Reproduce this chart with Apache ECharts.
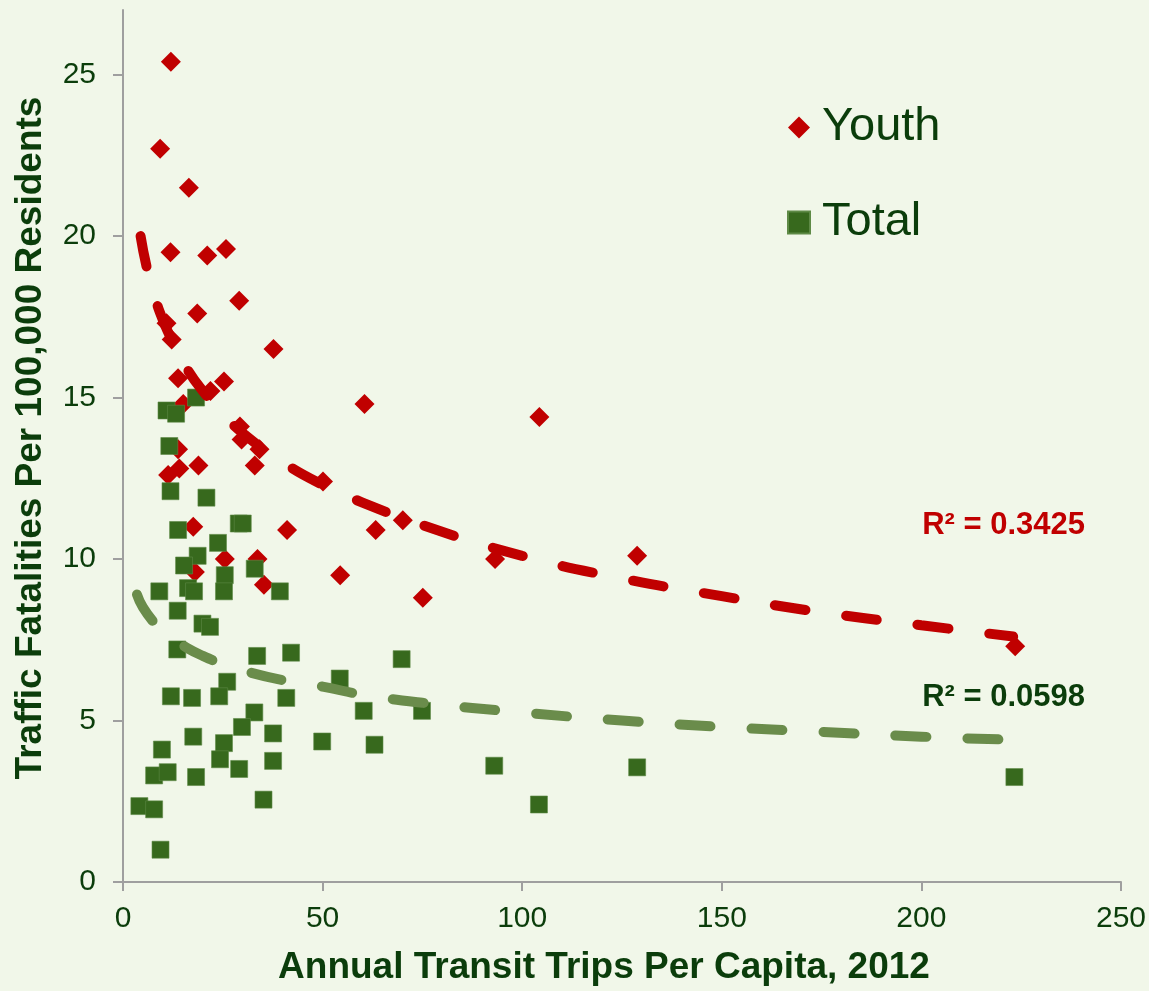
<!DOCTYPE html>
<html>
<head>
<meta charset="utf-8">
<script src="https://cdn.jsdelivr.net/npm/echarts@6/dist/echarts.min.js"></script>
<style>
html,body{margin:0;padding:0;background:#f1f7e9;}
#chart{width:1149px;height:991px;}
</style>
</head>
<body>
<div id="chart"></div>
<script>
// ---- Data ----
const youthX = [12, 9.3, 16.5, 11.9, 21.1, 25.8, 29.1, 18.6, 10.9, 12.2, 37.7, 13.8, 21.9, 25.3, 15.1, 29.3,
  29.7, 33, 34.2, 13.8, 14.1, 11.3, 18.9, 17.6, 41.1, 25.5, 33.7, 18, 35.3,
  60.5, 104.3, 50.1, 70.1, 63.3, 54.4, 93.2, 75.1, 128.8, 223.5];
const youthY = [25.4, 22.7, 21.5, 19.5, 19.4, 19.6, 18.0, 17.6, 17.3, 16.8, 16.5, 15.6, 15.2, 15.5, 14.8, 14.1,
  13.7, 12.9, 13.4, 13.4, 12.8, 12.6, 12.9, 11.0, 10.9, 10.0, 10.0, 9.6, 9.2,
  14.8, 14.4, 12.4, 11.2, 10.9, 9.5, 10.0, 8.8, 10.1, 7.3];

const totalX = [10.9, 13.3, 18.3, 11.6, 11.9, 20.9, 13.8, 29.0, 30.0, 23.8, 18.7, 15.3, 25.5, 33, 9.1, 16.3, 17.8,
  25.3, 39.3, 13.7, 19.9, 21.8, 13.6, 33.6, 42.1, 26.1, 12, 17.3, 24.1, 40.9, 32.9, 29.8, 37.6, 17.6, 25.3,
  9.75, 24.3, 29.1, 37.6, 7.8, 11.2, 18.3, 35.2, 4.1, 7.8, 9.4, 49.9, 54.3, 69.8, 60.3, 74.9, 63, 93, 104.2,
  128.8, 223.3];
const totalY = [14.6, 14.5, 15.0, 13.5, 12.1, 11.9, 10.9, 11.1, 11.1, 10.5, 10.1, 9.8, 9.5, 9.7, 9.0, 9.1, 9.0,
  9.0, 9.0, 8.4, 8.0, 7.9, 7.2, 7.0, 7.1, 6.2, 5.75, 5.7, 5.75, 5.7, 5.25, 4.8, 4.6, 4.5, 4.3,
  4.1, 3.8, 3.5, 3.75, 3.3, 3.4, 3.25, 2.55, 2.35, 2.25, 1.0, 4.35, 6.3, 6.9, 5.3, 5.3, 4.25, 3.6, 2.4,
  3.55, 3.25];

// Trend lines
const youthTrendX = [4.4, 6, 8, 10, 13, 16, 20, 25, 30, 40, 50, 60, 75, 100, 125, 150, 175, 200, 223];
const youthTrendY = [20.0, 19.0, 18.1, 17.4, 16.6, 15.9, 15.2, 14.5, 13.9, 13.0, 12.3, 11.75, 11.05, 10.1, 9.4, 8.85, 8.35, 7.95, 7.6];
const totalTrendX = [3.5, 5, 8, 10, 13, 16, 20, 25, 30, 40, 50, 60, 75, 100, 125, 150, 175, 200, 224];
const totalTrendY = [8.9, 8.5, 8.0, 7.75, 7.5, 7.25, 7.0, 6.75, 6.55, 6.25, 6.05, 5.8, 5.55, 5.25, 5.0, 4.8, 4.65, 4.5, 4.4];

const seriesNames = ['Youth', 'Total'];
const r2Labels = ['R² = 0.3425', 'R² = 0.0598'];
const xTicks = [0, 50, 100, 150, 200, 250];
const yTicks = [0, 5, 10, 15, 20, 25];
const xTitle = 'Annual Transit Trips Per Capita, 2012';
const yTitle = 'Traffic Fatalities Per 100,000 Residents';

const zip = (xs, ys) => xs.map((x, i) => [x, ys[i]]);

const TEXT = '#0b3d0b';
const RED = '#c00000';
const GREEN = '#37691d';
const GREEN_TREND = '#6a8c4b';
const AXIS = '#9f9f9f';
const FONT = 'Liberation Sans, Arial, sans-serif';

const chart = echarts.init(document.getElementById('chart'));
chart.setOption({
  backgroundColor: '#f1f7e9',
  animation: false,
  grid: { left: 123, right: 26, top: 10, bottom: 108, containLabel: false },
  legend: {
    data: seriesNames,
    orient: 'vertical',
    left: 782,
    top: 99,
    itemWidth: 22,
    itemHeight: 22,
    itemGap: 48,
    textStyle: { fontSize: 47, color: TEXT, fontFamily: FONT, padding: [0, 0, 0, 7] },
    selectedMode: false
  },
  xAxis: {
    type: 'value',
    min: 0, max: 250, interval: 50,
    name: xTitle,
    nameLocation: 'middle',
    nameGap: 67,
    nameTextStyle: { fontSize: 37, fontWeight: 'bold', color: TEXT, fontFamily: FONT, padding: [0, 36, 0, 0] },
    axisLine: { lineStyle: { color: AXIS, width: 2 } },
    axisTick: { show: true, inside: false, length: 9, lineStyle: { color: AXIS, width: 2 }, customValues: xTicks },
    axisLabel: { fontSize: 30, color: TEXT, fontFamily: FONT, margin: 22, customValues: xTicks },
    splitLine: { show: false }
  },
  yAxis: {
    type: 'value',
    min: 0, max: 27,
    name: yTitle,
    nameLocation: 'middle',
    nameGap: 74,
    nameTextStyle: { fontSize: 37, fontWeight: 'bold', color: TEXT, fontFamily: FONT, padding: [0, 0, 0, 16] },
    axisLine: { show: true, lineStyle: { color: AXIS, width: 2 } },
    axisTick: { show: true, inside: false, length: 10, lineStyle: { color: AXIS, width: 2 }, customValues: yTicks },
    axisLabel: { fontSize: 30, color: TEXT, fontFamily: FONT, margin: 27, customValues: yTicks },
    splitLine: { show: false }
  },
  series: [
    {
      name: seriesNames[0], type: 'scatter', symbol: 'diamond', symbolSize: 20,
      itemStyle: { color: RED, opacity: 1 }, data: zip(youthX, youthY)
    },
    {
      name: seriesNames[1], type: 'scatter', symbol: 'rect', symbolSize: 17,
      itemStyle: { color: GREEN, opacity: 1, borderColor: '#5e8a46', borderWidth: 0.6 }, data: zip(totalX, totalY)
    },
    {
      name: 'Youth trend', type: 'line', smooth: true, symbol: 'none', silent: true,
      lineStyle: { color: RED, width: 10, type: [31, 41], cap: 'round' },
      data: zip(youthTrendX, youthTrendY)
    },
    {
      name: 'Total trend', type: 'line', smooth: true, symbol: 'none', silent: true,
      lineStyle: { color: GREEN_TREND, width: 10, type: [31, 41], cap: 'round' },
      data: zip(totalTrendX, totalTrendY)
    }
  ],
  graphic: [
    { type: 'text', right: 1149 - 1085, top: 510, style: { text: r2Labels[0], fill: RED, font: 'bold 31px ' + FONT } },
    { type: 'text', right: 1149 - 1085, top: 682, style: { text: r2Labels[1], fill: TEXT, font: 'bold 31px ' + FONT } }
  ]
});
</script>
</body>
</html>
